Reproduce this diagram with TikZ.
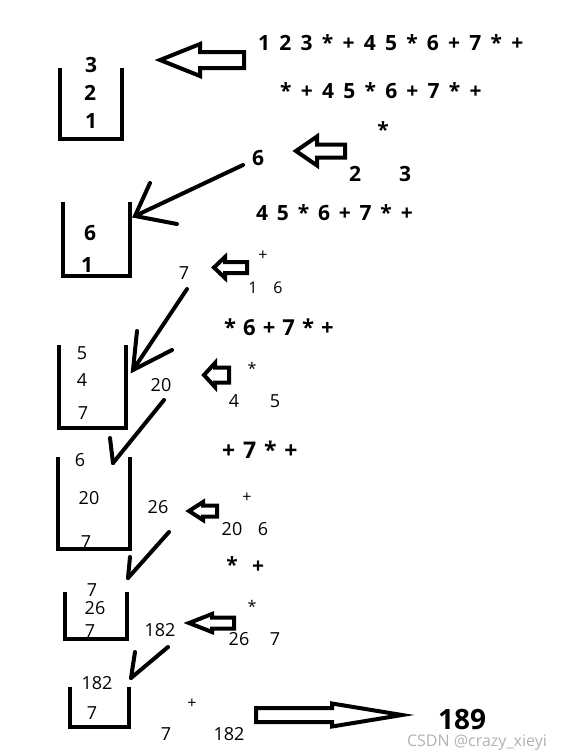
\documentclass[tikz,border=0pt]{standalone}
\usepackage{fontspec}
\setmainfont{Open Sans}
\newcommand\setgap[1]{\spaceskip #1\relax}
\newcommand\hollowleft[6]{% tipx, y, headback x, right x, head half, shaft half
  \draw[hollow] (#1,#2) -- (#3,{#2-#5}) -- (#3,{#2-#6}) -- (#4,{#2-#6}) -- (#4,{#2+#6}) -- (#3,{#2+#6}) -- (#3,{#2+#5}) -- cycle;}
\begin{document}
\begin{tikzpicture}[x=1pt,y=-1pt,
  B/.style={font={\bfseries\fontsize{21}{21}\selectfont\setgap{0.44em}}, inner sep=0pt},
  R/.style={font=\fontsize{18}{18}\selectfont, inner sep=0pt},
  S/.style={font=\fontsize{16}{16}\selectfont, inner sep=0pt},
  stackline/.style={line width=4.5pt, line join=miter},
  hollow/.style={line width=4pt, line join=miter},
  conn/.style={line width=4pt, line cap=round}]
\useasboundingbox (0,0) rectangle (561,756);
% stacks
\draw[stackline] (60,68) |- (122,139) -- (122,68);
\draw[stackline] (63,202) |- (130,276) -- (130,202);
\draw[stackline] (59,345) |- (126,428) -- (126,345);
\draw[stackline] (58,457) |- (130,549) -- (130,457);
\draw[stackline] (65,592) |- (127,639) -- (127,592);
\draw[stackline] (70,687) |- (129,727) -- (129,687);
% stack contents
\node[B] (s1a) at (91,65) {3};
\node[B] (s1b) at (90,93) {2};
\node[B] (s1c) at (91,121) {1};
\node[B] (s2a) at (90,233) {6};
\node[B] (s2b) at (87,265) {1};
\node[R] (s3a) at (82,353) {5};
\node[R] (s3b) at (82,380) {4};
\node[R] (s3c) at (83,413) {7};
\node[R] (s4a) at (80,460) {6};
\node[R] (s4b) at (89,498) {20};
\node[R] (s4c) at (86,542) {7};
\node[R] (s5a) at (92,590) {7};
\node[R] (s5b) at (95,608) {26};
\node[R] (s5c) at (90,631) {7};
\node[R] (s6a) at (97,683) {182};
\node[R] (s6b) at (92,713) {7};
% expressions
\node[B,anchor=west] (e1) at (258,43) {1 2 3 * + 4 5 * 6 + 7 * +};
\node[B,anchor=west] (e2) at (280,91) {* + 4 5 * 6 + 7 * +};
\node[B] (op1) at (383,130) {*};
\node[B] (r1) at (258,158) {6};
\node[B] (o1a) at (355,174) {2};
\node[B] (o1b) at (405,174) {3};
\node[B,anchor=west,font={\bfseries\fontsize{21}{21}\selectfont\setgap{0.42em}}] (e3) at (256,213) {4 5 * 6 + 7 * +};
\node[R] (r2) at (184,273) {7};
\node[S] (op2) at (263,256) {+};
\node[S] (o2a) at (253,288) {1};
\node[S] (o2b) at (278,288) {6};
\node[B,anchor=west,font={\bfseries\fontsize{22}{22}\selectfont\setgap{0.32em}}] (e4) at (224,327) {* 6 + 7 * +};
\node[R] (r3) at (161,385) {20};
\node[S] (op3) at (252,368) {*};
\node[R] (o3a) at (234,401) {4};
\node[R] (o3b) at (275,401) {5};
\node[B,anchor=west,font={\bfseries\fontsize{23}{23}\selectfont\setgap{0.34em}}] (e5) at (222,450) {+ 7 * +};
\node[R] (r4) at (158,507) {26};
\node[S] (op4) at (247,498) {+};
\node[R] (o4a) at (232,529) {20};
\node[R] (o4b) at (263,529) {6};
\node[B] (e6a) at (232,565) {*};
\node[B] (e6b) at (258,567) {+};
\node[S] (op5) at (252,606) {*};
\node[R] (r5) at (160,630) {182};
\node[R] (o5a) at (239,639) {26};
\node[R] (o5b) at (275,639) {7};
\node[S] (op6) at (192,704) {+};
\node[R] (o6a) at (166,734) {7};
\node[R] (o6b) at (229,734) {182};
\node[font=\bfseries\fontsize{28}{28}\selectfont, inner sep=0pt] (res) at (462,720) {189};
\node[font=\fontsize{16}{16}\selectfont, text=black!30, inner sep=0pt] (wm) at (477,743) {CSDN @crazy\_xieyi};
% hollow arrows
\hollowleft{160}{60}{200}{244}{16}{8}
\hollowleft{296}{151}{317}{345}{14.5}{6.5}
\hollowleft{214}{267.5}{225}{247}{10.5}{5.5}
\hollowleft{204}{375}{215}{229}{12}{7.5}
\hollowleft{189}{511}{203}{217}{9}{5.5}
\hollowleft{189}{623}{212}{234}{9}{5.5}
\draw[hollow] (402,715) -- (332,703.5) -- (332,708) -- (256,708) -- (256,722) -- (332,722) -- (332,726.5) -- cycle;
% connectors
\coordinate (t1) at (135,216);
\coordinate (t2) at (133,370);
\coordinate (t3) at (113,463);
\coordinate (t4) at (128,578);
\coordinate (t5) at (131,678);
\draw[conn] (243,165) -- (t1);
\draw[conn] (150,183) -- (t1) -- (177,224);
\draw[conn] (187,289) -- (t2);
\draw[conn] (137,331) -- (t2) -- (172,350);
\draw[conn] (164,400) -- (t3);
\draw[conn] (110,438) -- (t3);
\draw[conn] (169,532) -- (t4);
\draw[conn] (130,557) -- (t4);
\draw[conn] (168,647) -- (t5);
\draw[conn] (135,652) -- (t5);
\end{tikzpicture}
\end{document}
